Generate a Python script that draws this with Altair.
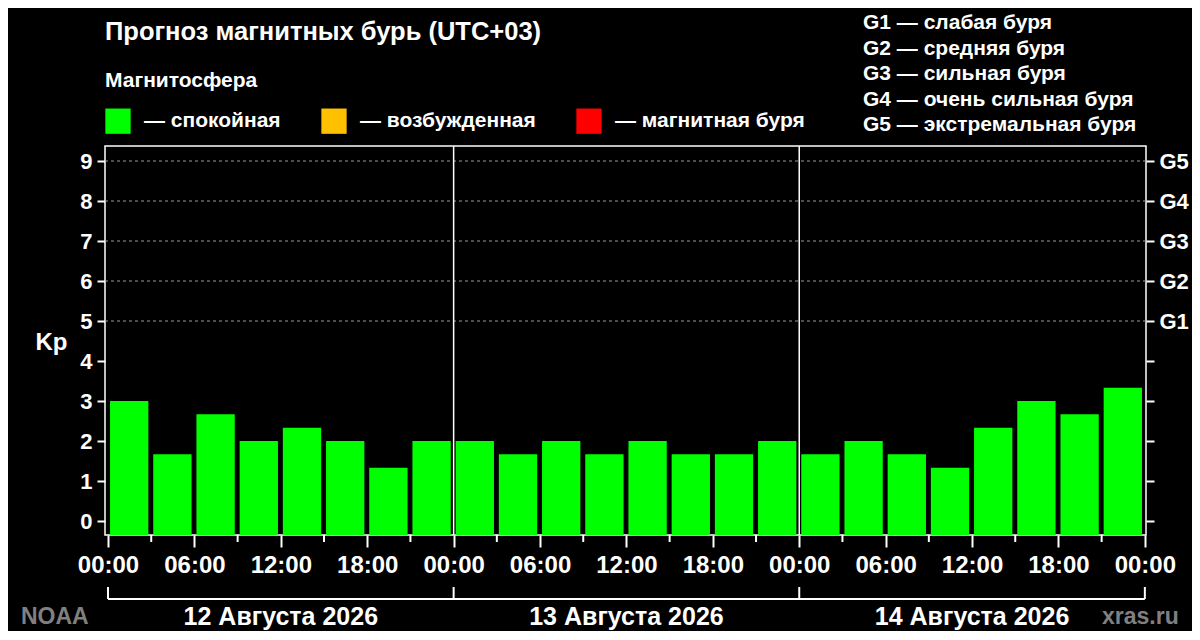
import altair as alt
import pandas as pd

# ---------------- data ----------------
hours = [0, 3, 6, 9, 12, 15, 18, 21,
         24, 27, 30, 33, 36, 39, 42, 45,
         48, 51, 54, 57, 60, 63, 66, 69]
kp = [3.0, 1.67, 2.67, 2.0, 2.33, 2.0, 1.33, 2.0,
      2.0, 1.67, 2.0, 1.67, 2.0, 1.67, 1.67, 2.0,
      1.67, 2.0, 1.67, 1.33, 2.33, 3.0, 2.67, 3.33]
states = ["спокойная", "возбужденная", "магнитная буря"]
state_colors = ["#00ff00", "#ffc000", "#ff0000"]
y_ticks = [0, 1, 2, 3, 4, 5, 6, 7, 8, 9]
g_levels = [5, 6, 7, 8, 9]
major_ticks = [0, 6, 12, 18, 24, 30, 36, 42, 48, 54, 60, 66, 72]
minor_ticks = [3, 9, 15, 21, 27, 33, 39, 45, 51, 57, 63, 69]
day_bounds = [0, 24, 48, 72]
day_separators = [24, 48]
day_centers = [12, 36, 60]
day_labels = ["12 Августа 2026", "13 Августа 2026", "14 Августа 2026"]
title_text = "Прогноз магнитных бурь (UTC+03)"
storm_scale = ["G1 — слабая буря", "G2 — средняя буря", "G3 — сильная буря",
               "G4 — очень сильная буря", "G5 — экстремальная буря"]

FONT = "Liberation Sans"
W, H = 1041, 389

XS = alt.Scale(domain=[-0.21, 72.08], nice=False, zero=False)
YS = alt.Scale(domain=[-0.35, 9.375], nice=False, zero=False)

bars_df = pd.DataFrame({"hour": hours, "kp": kp})

x_axis = alt.Axis(
    values=major_ticks, orient="bottom", title=None, domain=False, grid=False,
    tickColor="white", tickWidth=2, tickSize=12,
    labelExpr="((datum.value % 24) < 10 ? '0' : '') + (datum.value % 24) + ':00'",
    labelColor="white", labelFont=FONT, labelFontWeight="bold", labelFontSize=24,
    labelPadding=6, labelFlush=False, labelOverlap=False,
)
y_axis_left = alt.Axis(
    values=y_ticks, orient="left", domain=False, grid=False,
    tickColor="white", tickWidth=2, tickSize=8,
    labelColor="white", labelFont=FONT, labelFontWeight="bold", labelFontSize=22,
    labelPadding=5, labelOverlap=False, labelFlush=False,
    title="Kp", titleAngle=0, titleX=-70, titleY=196, titleAlign="left",
    titleBaseline="middle", titleColor="white", titleFont=FONT,
    titleFontWeight="bold", titleFontSize=24,
)
y_axis_right = alt.Axis(
    values=y_ticks, orient="right", domain=False, grid=False, title=None,
    tickColor="white", tickWidth=2, tickSize=8,
    labelExpr="datum.value >= 5 ? 'G' + (datum.value - 4) : ''",
    labelColor="white", labelFont=FONT, labelFontWeight="bold", labelFontSize=22,
    labelPadding=5, labelOverlap=False, labelFlush=False,
)

legend = alt.Legend(
    orient="none", legendX=0, legendY=-76, direction="horizontal", columns=3,
    title="Магнитосфера", titleColor="white", titleFont=FONT, titleFontWeight="bold",
    titleFontSize=21, titlePadding=17,
    symbolType="square", symbolSize=640, symbolStrokeWidth=0, symbolOpacity=1,
    labelExpr="'— ' + datum.label", labelColor="white", labelFont=FONT,
    labelFontWeight="bold", labelFontSize=21, labelOffset=13, labelLimit=400,
    columnPadding=40, padding=0,
)


def X(field):
    return alt.X(field, type="quantitative", scale=XS, axis=x_axis)


bars = alt.Chart(bars_df).transform_calculate(
    x0="datum.hour + 0.14", x1="datum.hour + 2.8",
    state="datum.kp >= 5 ? 'магнитная буря' : (datum.kp >= 4 ? 'возбужденная' : 'спокойная')",
).mark_rect().encode(
    x=X("x0"),
    x2="x1:Q",
    y=alt.Y("kp:Q", scale=YS, axis=y_axis_left),
    y2=alt.value(H),
    color=alt.Color("state:N", scale=alt.Scale(domain=states, range=state_colors), legend=legend),
)

grid = alt.Chart(pd.DataFrame({"g": g_levels})).mark_rule(
    color="#9a9a9a", strokeDash=[3, 3], strokeWidth=1
).encode(
    x=alt.value(0), x2=alt.value(W),
    y=alt.Y("g:Q", scale=YS, axis=y_axis_right),
)

minor = alt.Chart(pd.DataFrame({"m": minor_ticks})).mark_rule(
    color="white", strokeWidth=2
).encode(
    x=X("m"),
    y=alt.value(H), y2=alt.value(H + 7),
)

seps = alt.Chart(pd.DataFrame({"d": day_separators})).mark_rule(
    color="white", strokeWidth=1.5
).encode(
    x=X("d"),
    y=alt.value(0), y2=alt.value(H),
)

bracket_line = alt.Chart(pd.DataFrame({"a": [day_bounds[0]], "b": [day_bounds[-1]]})).mark_rule(
    color="white", strokeWidth=2
).encode(
    x=X("a"), x2="b:Q",
    y=alt.value(453),
)

bracket_ticks = alt.Chart(pd.DataFrame({"d": day_bounds})).mark_rule(
    color="white", strokeWidth=2
).encode(
    x=X("d"),
    y=alt.value(441), y2=alt.value(453),
)

day_text = alt.Chart(pd.DataFrame({"c": day_centers, "t": day_labels})).mark_text(
    color="white", font=FONT, fontWeight="bold", fontSize=25, baseline="middle", align="center"
).encode(
    x=X("c"),
    y=alt.value(471),
    text="t:N",
)

title = alt.Chart(pd.DataFrame({"t": [title_text]})).mark_text(
    color="white", font=FONT, fontWeight="bold", fontSize=25.5, baseline="middle", align="left"
).encode(x=alt.value(0), y=alt.value(-114), text="t:N")

gscale = alt.Chart(pd.DataFrame({"t": ["\n".join(storm_scale)]})).mark_text(
    color="white", font=FONT, fontWeight="bold", fontSize=21, baseline="middle", align="left",
    lineBreak="\n", lineHeight=25.5
).encode(x=alt.value(758), y=alt.value(-123), text="t:N")

noaa = alt.Chart(pd.DataFrame({"t": ["NOAA"]})).mark_text(
    color="#808080", font=FONT, fontWeight="bold", fontSize=23, baseline="middle", align="left"
).encode(x=alt.value(-84), y=alt.value(471), text="t:N")

xras = alt.Chart(pd.DataFrame({"t": ["xras.ru"]})).mark_text(
    color="#808080", font=FONT, fontWeight="bold", fontSize=23, baseline="middle", align="left"
).encode(x=alt.value(997), y=alt.value(471), text="t:N")

chart = alt.layer(
    grid, bars, minor, seps, bracket_line, bracket_ticks, day_text, title, gscale, noaa, xras
).resolve_axis(y="independent").properties(
    width=W, height=H,
    autosize=alt.AutoSizeParams(type="none"),
    padding={"left": 97, "top": 138, "right": 46, "bottom": 96},
    background="black",
).configure_view(stroke="white", strokeWidth=1.5)

chart.save("out.html", embed_options={"renderer": "svg", "actions": False})
